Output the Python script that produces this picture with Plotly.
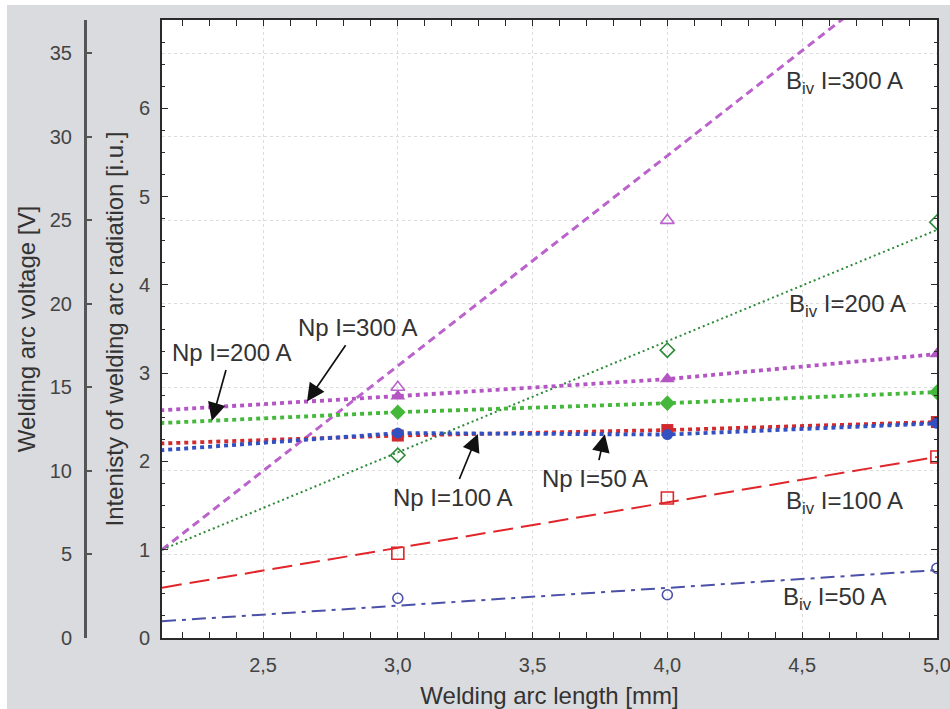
import numpy as np
import plotly.graph_objects as go

# ---------------------------------------------------------------- data ----
# Welding arc length [mm]; the 2 mm point lies just left of the visible axis
arc_length = [2.0, 3.0, 4.0, 5.0]
x_range = [2.125, 5.0]

# Welding arc voltage Np [V]
np_300 = [13.52, 14.48, 15.50, 17.00]
np_200 = [12.78, 13.52, 14.06, 14.72]
np_100 = [11.58, 12.12, 12.45, 12.93]
np_50 = [11.10, 12.27, 12.18, 12.85]

# Intensity of welding arc radiation B_iv [i.u.], measured at 3, 4, 5 mm
biv_x = [3.0, 4.0, 5.0]
biv_300 = [2.84, 4.73, None]
biv_200 = [2.07, 3.26, 4.71]
biv_100 = [0.96, 1.585, 2.05]
biv_50 = [0.45, 0.49, 0.79]

# Linear trend lines for B_iv: value = slope * length + intercept
biv_slope = [2.38, 1.26, 0.515, 0.2017]
biv_intercept = [-4.0575, -1.6775, -0.524, -0.239]

currents = ["300", "200", "100", "50"]

# Tick labels
x_tickvals = [2.5, 3.0, 3.5, 4.0, 4.5, 5.0]
x_ticktext = ["2,5", "3,0", "3,5", "4,0", "4,5", "5,0"]
rad_tickvals = [0, 1, 2, 3, 4, 5, 6]
volt_tickvals = [0, 5, 10, 15, 20, 25, 30, 35]

# --------------------------------------------------------------- styles ---
W, H = 950, 709
ml, mr, mt, mb = 10, 13, 20, 71
plot_w = W - ml - mr
plot_h = H - mt - mb
x_dom0 = (162 - ml) / plot_w
volt_pos = (85 - ml) / plot_w

MAGENTA = "#b455c4"
LTMAGENTA = "#bb62cc"
GREEN = "#45b83c"
DKGREEN = "#2f8a3a"
RED = "#e0262a"
DKRED = "#d02a2e"
BLUE = "#3350c0"
NAVY = "#4b50a8"
TEXT = "#333333"
FONT = "Liberation Sans, Arial, sans-serif"

np_series = [np_300, np_200, np_100, np_50]
np_colors = [MAGENTA, GREEN, DKRED, BLUE]
np_symbols = ["triangle-up", "diamond", "square", "circle"]
np_msize = [13, 12, 12, 11]

biv_series = [biv_300, biv_200, biv_100, biv_50]
biv_colors = [LTMAGENTA, DKGREEN, RED, NAVY]
biv_symbols = ["triangle-up-open", "diamond-open", "square-open", "circle-open"]
biv_msize = [12, 11, 12, 10]
biv_dash = ["8px,5px", "2px,3px", "20px,8px", "14px,6px,4px,6px"]
biv_width = [3, 2, 2, 2]

fig = go.Figure()

# B_iv trend lines and measured points (radiation axis)
for cur, slope, icpt, col, dash, lw in zip(currents, biv_slope, biv_intercept,
                                            biv_colors, biv_dash, biv_width):
    xs = np.array(x_range)
    fig.add_trace(go.Scatter(x=xs, y=slope * xs + icpt, mode="lines",
                             line=dict(color=col, width=lw, dash=dash),
                             yaxis="y", hoverinfo="skip",
                             name=f"B_iv I={cur} A fit"))
for cur, vals, col, sym, ms in zip(currents, biv_series, biv_colors, biv_symbols, biv_msize):
    fig.add_trace(go.Scatter(x=biv_x, y=vals, mode="markers",
                             marker=dict(symbol=sym, size=ms, color=col,
                                         line=dict(width=1.6, color=col)),
                             yaxis="y", name=f"B_iv I={cur} A"))

# Np voltage curves (voltage axis)
for cur, vals, col, sym, ms in zip(currents, np_series, np_colors, np_symbols, np_msize):
    fig.add_trace(go.Scatter(x=arc_length, y=vals, mode="lines+markers",
                             line=dict(color=col, width=3.8, dash="4px,4px"),
                             marker=dict(symbol=sym, size=ms, color=col),
                             yaxis="y2", name=f"Np I={cur} A"))

# ---------------------------------------------------------- annotations ---
annotations = []

# Np labels with arrows: (series, label, arrow tip x, text x, text V)
np_notes = [
    (np_300, "Np I=300 A", 2.663, 2.852, 18.61),
    (np_200, "Np I=200 A", 2.310, 2.381, 17.12),
    (np_100, "Np I=100 A", 3.297, 3.201, 8.44),
    (np_50, "Np I=50 A", 3.768, 3.731, 9.57),
]
for vals, label, tipx, tx, tv in np_notes:
    tipv = float(np.interp(tipx, arc_length, vals))
    annotations.append(dict(x=tipx, y=tipv, xref="x", yref="y2",
                            ax=tx, ay=tv, axref="x", ayref="y2",
                            text=label, showarrow=True, arrowhead=2,
                            arrowsize=2.1, arrowwidth=1.7, arrowcolor="#111111",
                            standoff=0, borderpad=4,
                            font=dict(size=24, color=TEXT, family=FONT)))

# B_iv labels
biv_notes = [("300", 4.658, 6.29), ("200", 4.670, 3.77),
             ("100", 4.658, 1.54), ("50", 4.621, 0.45)]
for cur, tx, tv in biv_notes:
    annotations.append(dict(x=tx, y=tv, xref="x", yref="y",
                            text=f"B<sub>iv</sub> I={cur} A", showarrow=False,
                            xanchor="center", yanchor="middle",
                            font=dict(size=24, color=TEXT, family=FONT)))

# ---------------------------------------------------------------- layout --
frame = dict(showline=True, linecolor="#2a2a2a", linewidth=2, mirror="allticks",
             ticks="inside", ticklen=6, tickwidth=1.2, tickcolor="#2a2a2a",
             zeroline=False, automargin=False)
grid = dict(showgrid=True, gridcolor="#dcdcdc", gridwidth=1, griddash="3px,3px")

fig.update_layout(
    width=W, height=H,
    margin=dict(l=ml, r=mr, t=mt, b=mb, pad=0, autoexpand=False),
    paper_bgcolor="#dadbde",
    plot_bgcolor="#ffffff",
    showlegend=False,
    font=dict(family=FONT, color="#444444", size=20),
    xaxis=dict(domain=[x_dom0, 1], range=[x_range[0], x_range[1] + 0.0005],
               tickvals=x_tickvals, ticktext=x_ticktext, anchor="y",
               ticklabeloverflow="allow",
               minor=dict(ticks="inside", dtick=0.1, tick0=0, ticklen=3,
                          tickcolor="#2a2a2a"),
               ticklabelstandoff=8,
               title=dict(text="Welding arc length [mm]",
                          font=dict(size=24, color=TEXT), standoff=17),
               **grid, **frame),
    yaxis=dict(range=[0, 7], tickvals=rad_tickvals, anchor="x", side="left",
               showgrid=False,
               minor=dict(ticks="inside", dtick=0.25, ticklen=3, tickcolor="#2a2a2a"),
               ticklabelstandoff=6,
               title=dict(text="Intenisty of welding arc radiation [i.u.]",
                          font=dict(size=24, color=TEXT), standoff=8),
               **frame),
    yaxis2=dict(range=[0, 37], tickvals=volt_tickvals, overlaying="y",
                anchor="free", position=volt_pos, side="left",
                showline=True, linecolor="#555555", linewidth=3,
                ticks="inside", ticklen=5, tickwidth=2, tickcolor="#555555",
                zeroline=False, ticklabelstandoff=8, automargin=False,
                title=dict(text="Welding arc voltage [V]",
                           font=dict(size=24, color=TEXT), standoff=6),
                **grid),
    annotations=annotations,
    shapes=[
        # white border strips along the left and top page edges
        dict(type="rect", xref="paper", yref="paper",
             x0=(0 - ml) / plot_w, x1=(7 - ml) / plot_w,
             y0=-mb / plot_h - 0.01, y1=(H - mb) / plot_h + 0.01,
             fillcolor="#ffffff", line=dict(width=0), layer="below"),
        dict(type="rect", xref="paper", yref="paper",
             x0=(0 - ml) / plot_w, x1=(W - ml) / plot_w,
             y0=(H - mb - 5) / plot_h, y1=(H - mb) / plot_h + 0.01,
             fillcolor="#ffffff", line=dict(width=0), layer="below"),
    ],
)

fig.write_html("out.html")
